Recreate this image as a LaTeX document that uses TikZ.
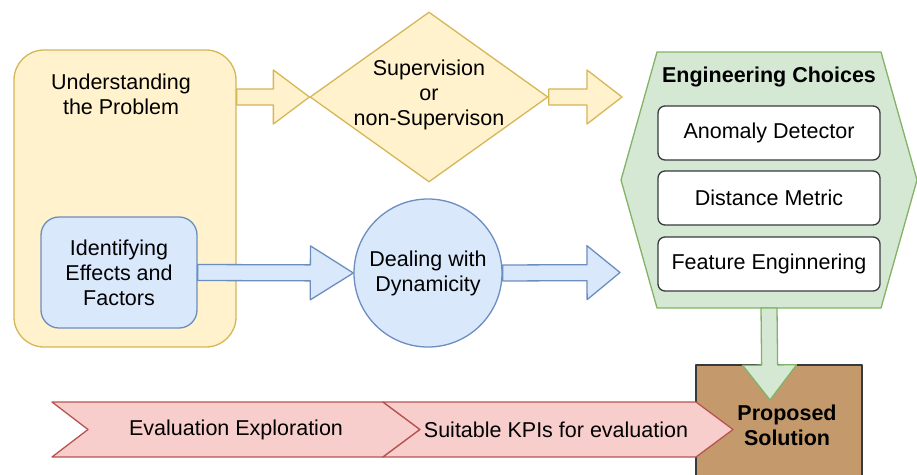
\documentclass[tikz,border=0pt]{standalone}
\usepackage{fontspec}
\setmainfont{Liberation Sans}
\usetikzlibrary{calc,shapes.geometric}

\definecolor{ylwfill}{HTML}{FFF2CC}
\definecolor{ylwline}{HTML}{D6B656}
\definecolor{bluefill}{HTML}{DAE8FC}
\definecolor{blueline}{HTML}{6C8EBF}
\definecolor{grnfill}{HTML}{D5E8D4}
\definecolor{grnline}{HTML}{82B366}
\definecolor{pnkfill}{HTML}{F8CECC}
\definecolor{pnkline}{HTML}{B85450}
\definecolor{brownfill}{HTML}{C4996C}
\definecolor{darkline}{HTML}{36393D}

\tikzset{
  ylw/.style={draw=ylwline,fill=ylwfill,line width=1.3pt},
  blu/.style={draw=blueline,fill=bluefill,line width=1.3pt},
  grn/.style={draw=grnline,fill=grnfill,line width=1.3pt},
  pnk/.style={draw=pnkline,fill=pnkfill,line width=1.3pt},
  txt/.style={align=center,inner sep=0pt},
  boldtxt/.style={txt,font=\fontsize{21.5}{25}\selectfont\bfseries},
  choice/.style={draw=darkline,fill=white,rounded corners=7pt,line width=1.3pt,
    minimum width=222pt,minimum height=54pt},
}

% fat arrow from #2 to #3, head length #4
\newcommand\fatarrow[4][]{%
  \coordinate (fa-h) at ($(#3)!#4!(#2)$);
  \draw[#1] ($(#2)!8pt!90:(#3)$) -- ($(fa-h)!8pt!90:(#3)$) -- ($(fa-h)!27pt!90:(#3)$)
    -- (#3) -- ($(fa-h)!27pt!-90:(#3)$) -- ($(fa-h)!8pt!-90:(#3)$)
    -- ($(#2)!8pt!-90:(#3)$) -- cycle;}

\begin{document}
\begin{tikzpicture}[x=1pt,y=-1pt,font=\fontsize{21.5}{25}\selectfont,line join=round]
\clip (0,0) rectangle (917,474);

% understanding the problem
\node[ylw,rounded corners=30pt,minimum width=222pt,minimum height=297pt] (under) at (125,198.5) {};
\node[txt] (undertxt) at (121,94) {Understanding\\the Problem};
\node[blu,txt,rounded corners=18pt,minimum width=156pt,minimum height=111pt] (ident) at (119,272.5) {Identifying\\Effects and\\Factors};

% supervision
\node[ylw,diamond,minimum width=238pt,minimum height=170pt] (sup) at (429,97) {};
\node[txt] (suptxt) at (429,95) {Supervision\\or\\non-Supervison};

% dynamicity
\node[blu,txt,circle,minimum size=148pt] (dyn) at (428,273) {Dealing with\\Dynamicity};

% engineering choices
\draw[grn] (657,52) -- (881,52) -- (917,180) -- (881,308) -- (657,308) -- (621,180) -- cycle;
\coordinate (engs) at (769,308);
\node[boldtxt] (engtitle) at (769,77) {Engineering Choices};
\node[choice] (anom) at (769,133) {Anomaly Detector};
\node[choice] (dist) at (769,198) {Distance Metric};
\node[choice] (feat) at (769,264) {Feature Enginnering};

% proposed solution
\node[draw=darkline,fill=brownfill,line width=1.3pt,minimum width=166pt,minimum height=130pt] (prop) at (779,430) {};

% evaluation
\draw[pnk] (52,402) -- (383,402) -- (420,429.5) -- (383,457) -- (52,457) -- (88,429.5) -- cycle;
\draw[pnk] (383,402) -- (696,402) -- (733,429.5) -- (696,457) -- (383,457) -- (420,429.5) -- cycle;
\node[txt] (evexp) at (236,430) {Evaluation Exploration};
\node[txt] (kpis) at (556,430) {Suitable KPIs for evaluation};

% arrows
\coordinate (ua) at (under.east |- sup.west);
\fatarrow[ylw]{ua}{sup.west}{36pt}
\coordinate (supend) at (622,97);
\fatarrow[ylw]{sup.east}{supend}{35pt}
\fatarrow[blu]{ident.east}{dyn.west}{43pt}
\coordinate (dynend) at (620,272.5);
\fatarrow[blu]{dyn.east}{dynend}{33pt}
\coordinate (solin) at (770,400);
\fatarrow[grn]{engs}{solin}{35pt}

\node[boldtxt] (proptxt) at (787,425) {Proposed\\Solution};
\end{tikzpicture}
\end{document}
